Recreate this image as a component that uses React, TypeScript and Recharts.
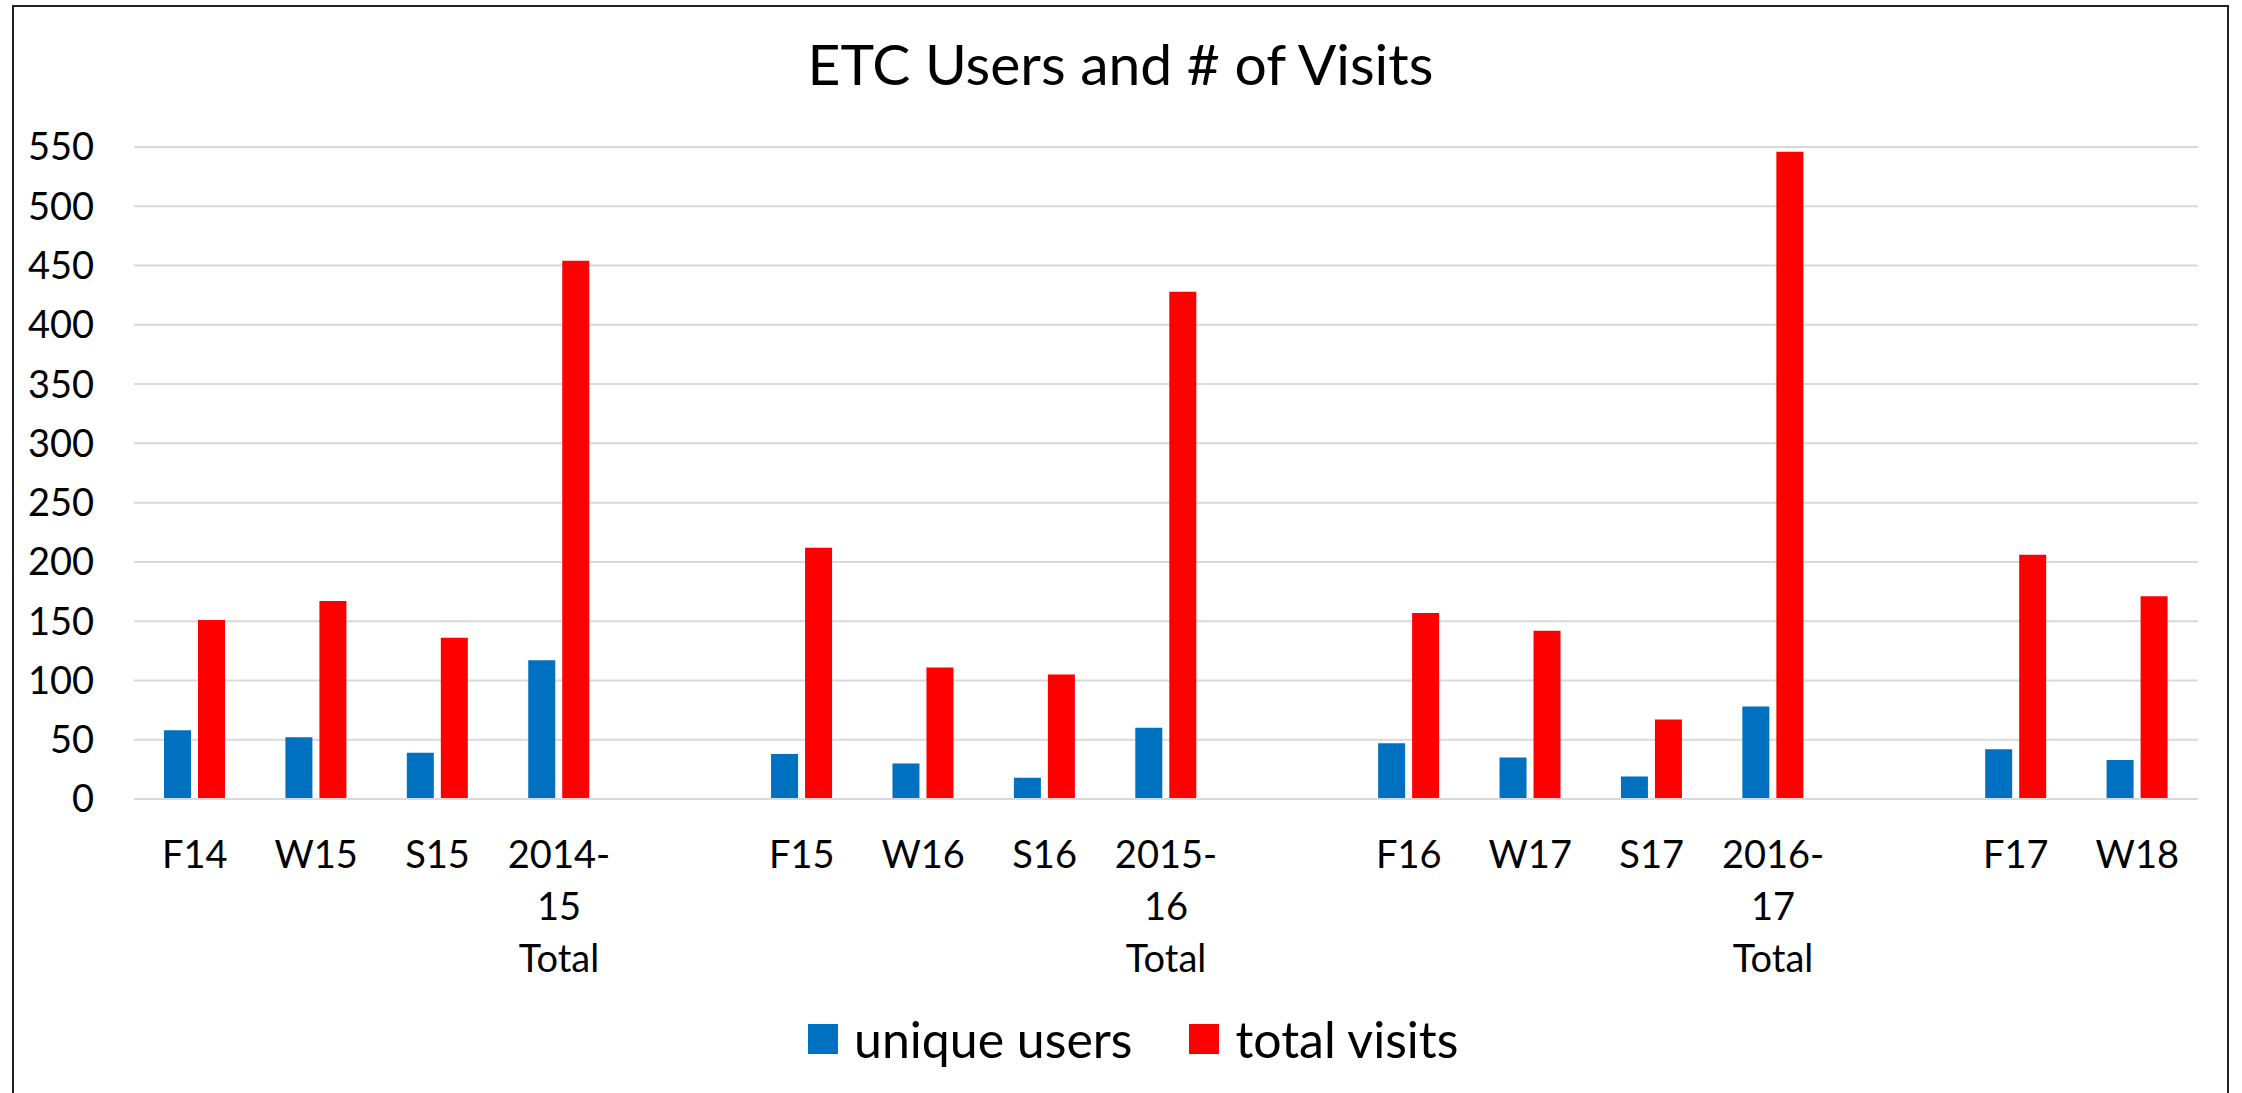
import React from 'react';
import { BarChart, Bar, XAxis, YAxis, CartesianGrid, Legend } from 'recharts';

// terms, with empty slots between the academic years
const terms = [
  'F14', 'W15', 'S15', '2014-\n15\nTotal', '',
  'F15', 'W16', 'S16', '2015-\n16\nTotal', '',
  'F16', 'W17', 'S17', '2016-\n17\nTotal', '',
  'F17', 'W18',
];
const uniqueUsers = [58, 52, 39, 117, null, 38, 30, 18, 60, null, 47, 35, 19, 78, null, 42, 33];
const totalVisits = [151, 167, 136, 454, null, 212, 111, 105, 428, null, 157, 142, 67, 546, null, 206, 171];
const yTicks = [0, 50, 100, 150, 200, 250, 300, 350, 400, 450, 500, 550];
const seriesOrder = ['users', 'visits'];

const data = terms.map((name, i) => ({
  name,
  users: uniqueUsers[i],
  visits: totalVisits[i],
}));

const FONT = 'Lato, sans-serif';

function TermTick({ x, y, payload }: any) {
  const lines = String(payload.value).split('\n');
  return (
    <text x={x} y={y} textAnchor="middle" fontFamily={FONT} fontSize={38} fill="#000">
      {lines.map((l, i) => (
        <tspan key={i} x={x} dy={i === 0 ? 69 : 52}>
          {l}
        </tspan>
      ))}
    </text>
  );
}

function LegendBox({ payload }: any) {
  const items = [...(payload || [])].sort(
    (a: any, b: any) => seriesOrder.indexOf(a.dataKey) - seriesOrder.indexOf(b.dataKey)
  );
  return (
    <div style={{ display: 'flex', alignItems: 'flex-end', fontFamily: FONT, fontSize: 50 }}>
      {items.map((p: any, i: number) => (
        <div
          key={p.value}
          style={{ display: 'flex', alignItems: 'flex-end', marginLeft: i === 0 ? 0 : 57 }}
        >
          <div style={{ width: 30, height: 30, background: p.color, marginRight: 16, marginBottom: 10 }} />
          <span style={{ lineHeight: '50px', color: '#000' }}>{p.value}</span>
        </div>
      ))}
    </div>
  );
}

export default function App() {
  return (
    <div
      style={{
        position: 'absolute',
        left: 0,
        top: 0,
        width: 2242,
        height: 1093,
        overflow: 'hidden',
        background: '#fff',
      }}
    >
      <div
        style={{
          position: 'absolute',
          left: 12,
          top: 5,
          width: 2213,
          height: 1200,
          border: '2px solid #222',
        }}
      />
      <div
        style={{
          position: 'absolute',
          left: 12,
          width: 2217,
          top: 35,
          textAlign: 'center',
          fontFamily: FONT,
          fontSize: 57,
          lineHeight: '57px',
          color: '#000',
        }}
      >
        ETC Users and # of Visits
      </div>
      <div style={{ position: 'absolute', left: 0, top: 0 }}>
        <BarChart
          width={2242}
          height={1093}
          data={data}
          margin={{ top: 147, right: 44, bottom: 0, left: 0 }}
          barSize={27}
          barGap={7}
        >
          <CartesianGrid vertical={false} stroke="#d9d9d9" strokeWidth={2} />
          <XAxis
            dataKey="name"
            interval={0}
            height={294}
            tickLine={false}
            axisLine={{ stroke: '#d9d9d9', strokeWidth: 2 }}
            tickSize={0}
            tickMargin={0}
            tick={<TermTick />}
          />
          <YAxis
            width={134}
            domain={[0, 550]}
            ticks={yTicks}
            interval={0}
            axisLine={false}
            tickLine={false}
            tickSize={0}
            tickMargin={40}
            tick={{ fontFamily: FONT, fontSize: 38, fill: '#000' }}
          />
          <Legend
            verticalAlign="middle"
            content={<LegendBox />}
            wrapperStyle={{ left: 808, top: 1014, width: 800 }}
          />
          <Bar dataKey="users" name="unique users" fill="#0070c0" isAnimationActive={false} />
          <Bar dataKey="visits" name="total visits" fill="#ff0000" isAnimationActive={false} />
        </BarChart>
      </div>
    </div>
  );
}
